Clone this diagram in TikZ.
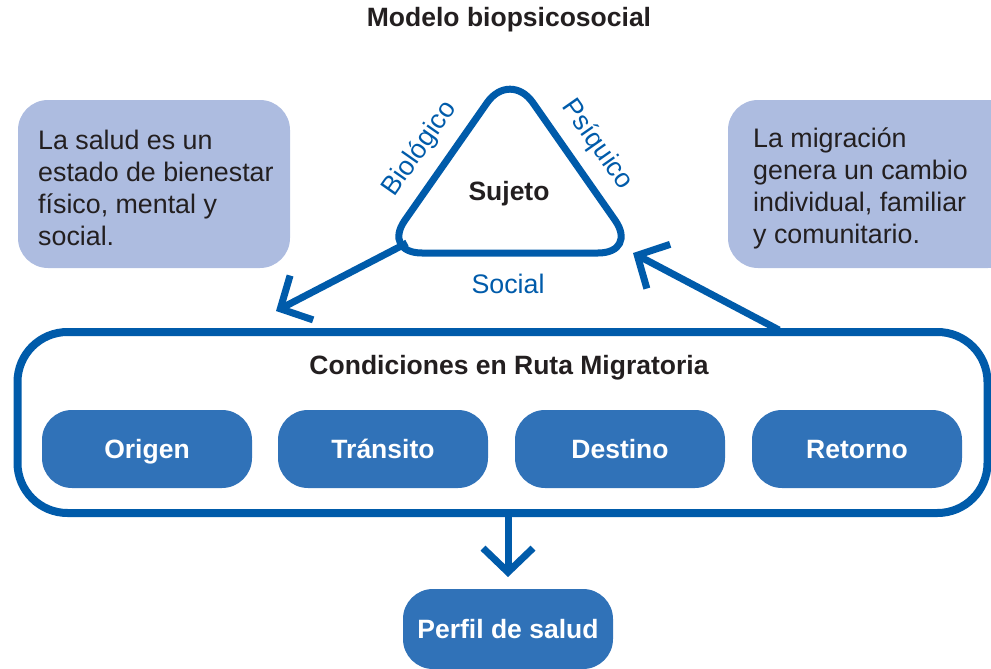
\documentclass[tikz,border=0pt]{standalone}
\usepackage{fontspec}
\setmainfont{Liberation Sans}
\usetikzlibrary{arrows.meta}
\definecolor{dblue}{RGB}{0,91,170}
\definecolor{bfill}{RGB}{48,114,184}
\definecolor{lav}{RGB}{173,188,224}
\definecolor{txt}{RGB}{35,31,32}
\begin{document}
\begin{tikzpicture}[x=1pt,y=-1pt,
 every node/.style={font=\fontsize{26.8}{32}\selectfont, text=txt},
 lavbox/.style={fill=lav, rounded corners=30pt, anchor=north west, inner sep=0pt, outer sep=0pt, minimum width=272pt, minimum height=168pt},
 bodytext/.style={anchor=west, align=left, inner sep=0pt},
 stagebox/.style={fill=bfill, rounded corners=30pt, minimum width=210pt, minimum height=78pt, text=white, font=\fontsize{26.5}{32}\selectfont\bfseries, inner sep=0pt, text height=18.8pt, text depth=0pt},
 sidelabel/.style={text=dblue, inner sep=0pt},
 link/.style={draw=dblue, line width=7pt, -{Straight Barb[length=24pt,width=50pt]}},
]
\useasboundingbox (0,0) rectangle (991,669);
\clip (0,0) rectangle (991,669);

% title
\node[font=\fontsize{26.5}{30}\selectfont\bfseries] (title) at (509,20) {Modelo biopsicosocial};

% side boxes
\node[lavbox] (salud) at (18,100) {};
\node[bodytext] (saludtxt) at (38,188) {La salud es un\\estado de bienestar\\físico, mental y\\social.};
\node[lavbox, minimum width=290pt] (migra) at (728,100) {};
\node[bodytext] (migratxt) at (753,188) {La migración\\genera un cambio\\individual, familiar\\y comunitario.};

% triangle
\coordinate (tA) at (510,70);
\coordinate (tL) at (382,253);
\coordinate (tR) at (638,253);
\draw[dblue, line width=7pt, rounded corners=40pt] (tA) -- (tR) -- (tL) -- cycle;
\node[font=\fontsize{26.5}{32}\selectfont\bfseries] (sujeto) at (509,194) {Sujeto};
\node[sidelabel, rotate=55] (bio) at (420,149) {Biológico};
\node[sidelabel, rotate=-55] (psi) at (597,145) {Psíquico};
\node[sidelabel] (social) at (508,284) {Social};

% big box
\node[draw=dblue, line width=8pt, rounded corners=50pt, minimum width=970pt, minimum height=181pt, anchor=north west, inner sep=0pt, outer sep=0pt] (ruta) at (17.5,332) {};
\node[font=\fontsize{26.5}{32}\selectfont\bfseries] (rutatitle) at (509,368) {Condiciones en Ruta Migratoria};
\node[stagebox] (origen) at (147,449) {Origen};
\node[stagebox] (transito) at (383,449) {Tránsito};
\node[stagebox] (destino) at (620,449) {Destino};
\node[stagebox] (retorno) at (857,449) {Retorno};

% profile
\node[stagebox, minimum height=80pt] (perfil) at (508,629) {Perfil de salud};

% connectors
\coordinate (lStart) at (407,243);
\coordinate (lTip) at (276,311);
\coordinate (rStart) at (779,330);
\coordinate (rTip) at (633,253);
\coordinate (dTip) at (508,577);
\draw[link] (lStart) -- (lTip);
\draw[link] (rStart) -- (rTip);
\draw[link] (ruta.south -| perfil.north) -- (dTip);
\end{tikzpicture}
\end{document}
